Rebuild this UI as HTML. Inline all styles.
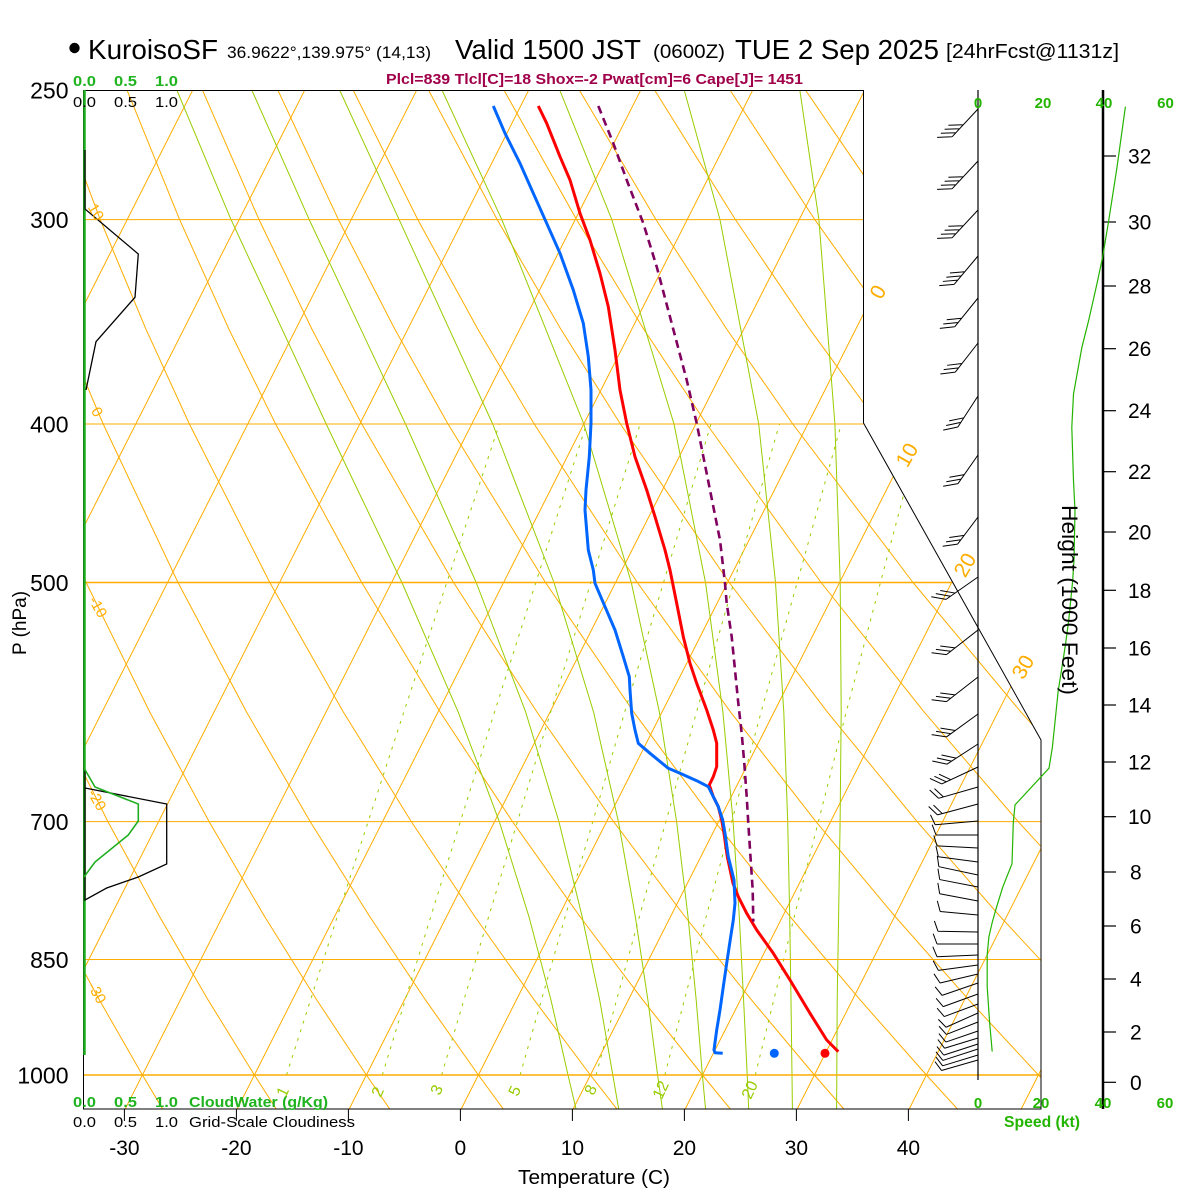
<!DOCTYPE html>
<html><head><meta charset="utf-8"><title>Skew-T</title>
<style>
html,body{margin:0;padding:0;background:#fff;}
svg{display:block;font-family:"Liberation Sans",Arial,sans-serif;}
</style></head>
<body>
<svg xmlns="http://www.w3.org/2000/svg" width="1200" height="1200" viewBox="0 0 1200 1200">
<rect width="1200" height="1200" fill="#fff"/>
<defs>
<clipPath id="cp"><polygon points="83,90 863,90 863,423 1041,740 1041,1109 83,1109"/></clipPath>
</defs>

<g clip-path="url(#cp)" fill="none" stroke-linejoin="round">
  <!-- isotherms -->
  <path stroke="#ffad00" stroke-width="1" d="M-438.55,1116.4L264.4,-272.9M-326.55,1116.4L376.4,-272.9M-214.55,1116.4L488.4,-272.9M-102.55,1116.4L600.4,-272.9M9.45,1116.4L712.4,-272.9M121.45,1116.4L824.4,-272.9M233.45,1116.4L936.4,-272.9M345.45,1116.4L1048.4,-272.9M457.45,1116.4L1160.4,-272.9M569.45,1116.4L1272.4,-272.9M681.45,1116.4L1384.4,-272.9M793.45,1116.4L1496.4,-272.9M905.45,1116.4L1608.4,-272.9M1017.45,1116.4L1720.4,-272.9"/>
  <!-- dry adiabats -->
  <g stroke="#ffad00" stroke-width="1">
    <polyline points="163.1,1109.7 142.4,1075 99.5,1000.1 54.4,916.5 6.8,821.6 -43.7,712.1"/>
    <polyline points="276.7,1109.7 254.4,1075 208.2,1000.1 159.5,916.5 107.9,821.6 53.1,712.1 -5.8,582.5"/>
    <polyline points="390.2,1109.7 366.4,1075 316.9,1000.1 264.6,916.5 209.1,821.6 149.8,712.1 86.1,582.5 17.0,424"/>
    <polyline points="503.8,1109.7 478.4,1075 425.6,1000.1 369.7,916.5 310.2,821.6 246.6,712.1 178.0,582.5 103.2,424 62.9,329.1 20.8,219.6"/>
    <polyline points="617.4,1109.7 590.4,1075 534.3,1000.1 474.8,916.5 411.3,821.6 343.4,712.1 269.8,582.5 189.4,424 145.9,329.1 100.2,219.6 51.7,90"/>
    <polyline points="730.9,1109.7 702.4,1075 642.9,1000.1 579.9,916.5 512.5,821.6 440.2,712.1 361.7,582.5 275.6,424 228.9,329.1 179.6,219.6 127.0,90"/>
    <polyline points="844.5,1109.7 814.4,1075 751.6,1000.1 684.9,916.5 613.6,821.6 537.0,712.1 453.6,582.5 361.8,424 311.9,329.1 259.0,219.6 202.4,90"/>
    <polyline points="958.1,1109.7 926.4,1075 860.3,1000.1 790.0,916.5 714.8,821.6 633.8,712.1 545.5,582.5 448.0,424 394.8,329.1 338.4,219.6 277.8,90"/>
    <polyline points="1071.7,1109.7 1038.4,1075 969.0,1000.1 895.1,916.5 815.9,821.6 730.6,712.1 637.3,582.5 534.2,424 477.8,329.1 417.8,219.6 353.1,90"/>
    <polyline points="1185.2,1109.7 1150.4,1075 1077.6,1000.1 1000.2,916.5 917.1,821.6 827.4,712.1 729.2,582.5 620.4,424 560.8,329.1 497.2,219.6 428.5,90"/>
    <polyline points="1186.3,1000.1 1105.3,916.5 1018.2,821.6 924.2,712.1 821.1,582.5 706.6,424 643.7,329.1 576.6,219.6 503.9,90"/>
    <polyline points="1210.3,916.5 1119.4,821.6 1021.0,712.1 913.0,582.5 792.8,424 726.7,329.1 656.0,219.6 579.3,90"/>
    <polyline points="1220.5,821.6 1117.8,712.1 1004.9,582.5 879.0,424 809.7,329.1 735.4,219.6 654.6,90"/>
    <polyline points="1214.6,712.1 1096.7,582.5 965.2,424 892.7,329.1 814.8,219.6 730.0,90"/>
    <polyline points="1188.6,582.5 1051.4,424 975.6,329.1 894.2,219.6 805.4,90"/>
    <polyline points="1137.6,424 1058.6,329.1 973.6,219.6 880.7,90"/>
  </g>
  <!-- moist adiabats -->
  <g stroke="#99cc00" stroke-width="1">
    <polyline points="576.2,1109.7 568.0,1075 551.0,1000.1 528.9,916.5 499.3,821.6 458.2,712.1 401.9,582.5 326.2,424 231.0,219.6 176.8,90"/>
    <polyline points="618.8,1109.7 612.8,1075 599.7,1000.1 582.1,916.5 558.9,821.6 525.7,712.1 476.2,582.5 405.5,424 309.2,219.6 251.8,90"/>
    <polyline points="662.5,1109.7 657.6,1075 647.9,1000.1 635.3,916.5 618.4,821.6 593.6,712.1 554.0,582.5 492.7,424 399.1,219.6 339.6,90"/>
    <polyline points="705.6,1109.7 702.4,1075 696.2,1000.1 688.0,916.5 676.6,821.6 659.4,712.1 631.3,582.5 583.8,424 501.8,219.6 442.0,90"/>
    <polyline points="748.7,1109.7 747.2,1075 743.6,1000.1 739.3,916.5 733.1,821.6 722.9,712.1 705.5,582.5 674.0,424 611.8,219.6 559.7,90"/>
    <polyline points="792.4,1109.7 792.0,1075 791.0,1000.1 789.7,916.5 787.7,821.6 783.8,712.1 775.5,582.5 758.7,424 720.0,219.6 684.2,90"/>
    <polyline points="836.6,1109.7 836.8,1075 837.2,1000.1 838.6,916.5 840.1,821.6 841.2,712.1 840.2,582.5 834.9,424 818.9,219.6 799.8,90"/>
  </g>
  <!-- mixing ratio lines -->
  <g stroke="#99cc00" stroke-width="1" stroke-dasharray="3 6">
    <polyline points="286.5,1075 337.3,916.5 403.8,712.1 499.4,424"/>
    <polyline points="382.3,1075 430.8,916.5 494.5,712.1 586.4,424"/>
    <polyline points="441.6,1075 488.7,916.5 550.6,712.1 640.1,424"/>
    <polyline points="520.1,1075 565.2,916.5 624.7,712.1 711.0,424"/>
    <polyline points="596.1,1075 639.4,916.5 696.5,712.1 779.5,424"/>
    <polyline points="664.8,1075 706.2,916.5 761.1,712.1 841.3,424"/>
    <polyline points="755.3,1075 794.3,916.5 846.2,712.1 922.4,424"/>
  </g>
  <!-- pressure lines -->
  <g stroke="#ffad00">
    <line x1="83" y1="219.6" x2="1041" y2="219.6" stroke-width="1"/>
    <line x1="83" y1="424" x2="1041" y2="424" stroke-width="1"/>
    <line x1="83" y1="582.5" x2="1041" y2="582.5" stroke-width="1.4"/>
    <line x1="83" y1="821.6" x2="1041" y2="821.6" stroke-width="1"/>
    <line x1="83" y1="959.5" x2="1041" y2="959.5" stroke-width="1"/>
    <line x1="83" y1="1075" x2="1041" y2="1075" stroke-width="1.4"/>
  </g>
</g>

<!-- frame -->
<g stroke="#000" stroke-width="1" fill="none">
  <polyline points="83.5,1109 83.5,90.5 863.5,90.5 863.5,423 1041,740 1041,1109 83,1109"/>
</g>
<!-- bottom ticks -->
<g stroke="#000" stroke-width="1">
  <line x1="124.4" y1="1109" x2="124.4" y2="1121"/>
  <line x1="236.4" y1="1109" x2="236.4" y2="1121"/>
  <line x1="348.4" y1="1109" x2="348.4" y2="1121"/>
  <line x1="460.4" y1="1109" x2="460.4" y2="1121"/>
  <line x1="572.4" y1="1109" x2="572.4" y2="1121"/>
  <line x1="684.4" y1="1109" x2="684.4" y2="1121"/>
  <line x1="796.4" y1="1109" x2="796.4" y2="1121"/>
  <line x1="908.4" y1="1109" x2="908.4" y2="1121"/>
</g>

<!-- left cloud panel -->
<line x1="84.5" y1="90" x2="84.5" y2="1055" stroke="#1fae1f" stroke-width="2.5"/>
<g fill="none" stroke="#000" stroke-width="1.3">
  <polyline points="85,150 85,209 138.3,254 135,297.3 96,341.7 86,390"/>
  <polyline points="85,769 85,788 166.7,804 166.7,864 138.3,877 106.7,888 85,900 85,788"/>
</g>
<polyline fill="none" stroke="#1fae1f" stroke-width="1.6" points="84,768 95,787 138.3,804 138.3,821 128.3,835 95,862 84,877"/>

<!-- Temperature (red) -->
<polyline fill="none" stroke="#ff0000" stroke-width="3" stroke-linejoin="round" points="538.3,106 546.7,123.3 560,156.7 570,180 580,213.3 590,240 600,273.3 608.3,306.7 615,350 620,390 626.7,423.3 635,456.7 646.7,490 655,516.7 665,550 670,570 676.7,603.3 683.3,636.7 690,663.3 696.7,683.3 706.7,710 713.3,730 716.7,743.3 716.7,766.7 713.3,776.7 709.3,785 713.3,796.7 718.3,806.7 721.7,820 724,833.3 727.3,856.7 733,883.3 738.3,896.7 746.7,913.3 756.7,930 773.3,953.3 790,980 810,1013.3 826.7,1040 838.3,1051.7"/>
<!-- Parcel (purple dashed) -->
<polyline fill="none" stroke="#80005f" stroke-width="2.6" stroke-dasharray="8 5" points="598.3,106 613.3,143.3 626.7,180 643.3,223.3 656.7,266.7 671.7,323.3 686.7,380 696.7,423.3 710,490 720,540 725,583.3 726.7,603.3 731.7,636.7 735,670 738.3,703.3 741.7,733.3 744.3,763.3 746.7,796.7 748.3,823.3 750.7,860 752.7,890 753.3,921.7"/>
<!-- Dewpoint (blue) -->
<polyline fill="none" stroke="#0066ff" stroke-width="3" stroke-linejoin="round" points="493.3,106 505,133.3 520,163.3 533.3,193.3 546.7,223.3 560,253.3 573.3,290 583.3,323.3 588.3,356.7 591,390 591,423.3 589.3,456.7 586,490 585,510 588.3,550 593.3,570 595,583.3 605,606.7 615,630 623.3,656.7 629.3,676.7 630,690 631.7,713.3 635,730 638.3,743.3 650,753.3 668.3,768.3 680,773.3 696.7,780.7 708.3,786.7 713.3,796.7 718.3,806.7 722.7,820 725,833.3 728.3,856.7 734,880 735,903.3 733.3,920 730.7,936.7 726.7,963.3 723.3,986.7 720,1010 716.7,1030 714,1050 715,1052.7 722.7,1053.3"/>
<circle cx="774.3" cy="1053.3" r="4.5" fill="#0066ff"/>
<circle cx="825" cy="1053.3" r="4.5" fill="#ff0000"/>

<!-- right panel lines -->
<line x1="978" y1="90" x2="978" y2="1080" stroke="#000" stroke-width="1.2"/>
<line x1="1103" y1="90" x2="1103" y2="1109" stroke="#000" stroke-width="2.5"/>
<g stroke="#000" stroke-width="1.2">
  <line x1="1103" y1="1082.3" x2="1116" y2="1082.3"/>
  <line x1="1103" y1="1032" x2="1116" y2="1032"/>
  <line x1="1103" y1="979" x2="1116" y2="979"/>
  <line x1="1103" y1="926" x2="1116" y2="926"/>
  <line x1="1103" y1="872" x2="1116" y2="872"/>
  <line x1="1103" y1="816.7" x2="1116" y2="816.7"/>
  <line x1="1103" y1="762" x2="1116" y2="762"/>
  <line x1="1103" y1="705" x2="1116" y2="705"/>
  <line x1="1103" y1="648" x2="1116" y2="648"/>
  <line x1="1103" y1="590.3" x2="1116" y2="590.3"/>
  <line x1="1103" y1="532" x2="1116" y2="532"/>
  <line x1="1103" y1="471.7" x2="1116" y2="471.7"/>
  <line x1="1103" y1="410.7" x2="1116" y2="410.7"/>
  <line x1="1103" y1="348.7" x2="1116" y2="348.7"/>
  <line x1="1103" y1="286" x2="1116" y2="286"/>
  <line x1="1103" y1="222" x2="1116" y2="222"/>
  <line x1="1103" y1="156" x2="1116" y2="156"/>
</g>
<!-- wind speed profile -->
<polyline fill="none" stroke="#22b400" stroke-width="1.2" points="1125.4,106.7 1117,167.3 1108.7,220.7 1102.6,257.3 1096.9,284 1088.6,320.7 1081.9,347.3 1073.5,394 1071.8,427.3 1073.5,480.7 1075,510.7 1074,560 1072.7,580.3 1068.8,619.5 1065.5,644.5 1060.5,676.6 1058.2,690.8 1054.9,723 1052.3,747.9 1049,768.2 1015,804.9 1013.3,822.7 1012,863.7 1002.8,886.9 996.2,908.3 992.2,922.5 988.9,936.8 987.2,954.6 987.2,986.8 989.6,1022.4 992.2,1051.6"/>

<!-- wind barbs -->
<g fill="none" stroke="#000" stroke-width="1">
<g transform="translate(978,109) rotate(-47)"><path d="M0,0H-38M-38,0l-10.6,-10.6M-32.5,0l-10.6,-10.6M-27,0l-10.6,-10.6M-21.5,0l-10.6,-10.6"/></g>
<g transform="translate(978,161) rotate(-47)"><path d="M0,0H-38M-38,0l-10.6,-10.6M-32.5,0l-10.6,-10.6M-27,0l-10.6,-10.6M-21.5,0l-10.6,-10.6"/></g>
<g transform="translate(978,210) rotate(-47)"><path d="M0,0H-38M-38,0l-10.6,-10.6M-32.5,0l-10.6,-10.6M-27,0l-10.6,-10.6M-21.5,0l-10.6,-10.6"/></g>
<g transform="translate(978,256) rotate(-50)"><path d="M0,0H-37M-37,0l-10.6,-10.6M-31.5,0l-10.6,-10.6M-26,0l-10.6,-10.6M-20.5,0l-10.6,-10.6"/></g>
<g transform="translate(978,298) rotate(-51)"><path d="M0,0H-37M-37,0l-10.6,-10.6M-31.5,0l-10.6,-10.6M-26,0l-10.6,-10.6"/></g>
<g transform="translate(978,343) rotate(-52)"><path d="M0,0H-37M-37,0l-10.6,-10.6M-31.5,0l-10.6,-10.6M-26,0l-10.6,-10.6"/></g>
<g transform="translate(978,396) rotate(-57)"><path d="M0,0H-37M-37,0l-10.6,-10.6M-31.5,0l-10.6,-10.6M-26,0l-10.6,-10.6"/></g>
<g transform="translate(978,455) rotate(-55)"><path d="M0,0H-35M-35,0l-10.6,-10.6M-29.5,0l-10.6,-10.6M-24,0l-10.6,-10.6"/></g>
<g transform="translate(978,517) rotate(-53)"><path d="M0,0H-34M-34,0l-10.6,-10.6M-28.5,0l-10.6,-10.6M-23,0l-10.6,-10.6"/></g>
<g transform="translate(978,577) rotate(-35)"><path d="M0,0H-39M-39,0l-10.6,-10.6M-33.5,0l-10.6,-10.6M-28,0l-10.6,-10.6"/></g>
<g transform="translate(978,630) rotate(-38)"><path d="M0,0H-40M-40,0l-10.6,-10.6M-34.5,0l-10.6,-10.6M-29,0l-10.6,-10.6"/></g>
<g transform="translate(978,677) rotate(-38)"><path d="M0,0H-40M-40,0l-10.6,-10.6M-34.5,0l-10.6,-10.6M-29,0l-10.6,-10.6"/></g>
<g transform="translate(978,714) rotate(-36)"><path d="M0,0H-39M-39,0l-10.6,-10.6M-33.5,0l-10.6,-10.6M-28,0l-10.6,-10.6"/></g>
<g transform="translate(978,744) rotate(-33)"><path d="M0,0H-37M-37,0l-10.6,-10.6M-31.5,0l-10.6,-10.6M-26,0l-10.6,-10.6"/></g>
<g transform="translate(978,767) rotate(-25)"><path d="M0,0H-40M-40,0l-8.4,-10M-35,0l-8.4,-10M-30,0l-8.4,-10"/></g>
<g transform="translate(978,787) rotate(-16)"><path d="M0,0H-41M-41,0l-6.3,-10.4M-36,0l-6.3,-10.4"/></g>
<g transform="translate(978,804) rotate(-15)"><path d="M0,0H-42M-42,0l-6.3,-10.4M-37,0l-6.3,-10.4"/></g>
<g transform="translate(978,821) rotate(-5)"><path d="M0,0H-43M-43,0l-3.8,-10.3"/></g>
<g transform="translate(978,835) rotate(0)"><path d="M0,0H-42M-42,0l-3.8,-10.3"/></g>
<g transform="translate(978,848) rotate(3)"><path d="M0,0H-41M-41,0l-3.8,-10.3"/></g>
<g transform="translate(978,862) rotate(7.6)"><path d="M0,0H-40M-40,0l-3.8,-10.3"/></g>
<g transform="translate(978,875) rotate(12)"><path d="M0,0H-40M-40,0l-3.8,-10.3"/></g>
<g transform="translate(978,887) rotate(11)"><path d="M0,0H-39M-39,0l-3.8,-10.3"/></g>
<g transform="translate(978,901) rotate(10.7)"><path d="M0,0H-39M-39,0l-3.8,-10.3"/></g>
<g transform="translate(978,915) rotate(5.3)"><path d="M0,0H-38M-38,0l-3.8,-10.3"/></g>
<g transform="translate(978,932) rotate(1)"><path d="M0,0H-40M-40,0l-3.8,-10.3"/></g>
<g transform="translate(978,944) rotate(0)"><path d="M0,0H-41M-41,0l-3.8,-10.3"/></g>
<g transform="translate(978,955) rotate(-2.5)"><path d="M0,0H-41M-41,0l-3.8,-10.3"/></g>
<g transform="translate(978,965) rotate(-7.8)"><path d="M0,0H-40M-40,0l-3.8,-10.3"/></g>
<g transform="translate(978,974) rotate(-13.3)"><path d="M0,0H-39M-39,0l-3.8,-10.3"/></g>
<g transform="translate(978,983) rotate(-19)"><path d="M0,0H-38M-38,0l-3.8,-10.3"/></g>
<g transform="translate(978,994) rotate(-20)"><path d="M0,0H-37M-37,0l-3.8,-10.3"/></g>
<g transform="translate(978,1004) rotate(-20.4)"><path d="M0,0H-36M-36,0l-3.8,-10.3"/></g>
<g transform="translate(978,1013) rotate(-24)"><path d="M0,0H-35M-35,0l-3.8,-10.3"/></g>
<g transform="translate(978,1022) rotate(-21.5)"><path d="M0,0H-34M-34,0l-3.8,-10.3"/></g>
<g transform="translate(978,1031) rotate(-19)"><path d="M0,0H-34M-34,0l-3.8,-10.3"/></g>
<g transform="translate(978,1038) rotate(-17)"><path d="M0,0H-35M-35,0l-3.8,-10.3"/></g>
<g transform="translate(978,1044) rotate(-18)"><path d="M0,0H-36M-36,0l-3.8,-10.3"/></g>
<g transform="translate(978,1049) rotate(-18)"><path d="M0,0H-37M-37,0l-3.8,-10.3"/></g>
<g transform="translate(978,1055) rotate(-17)"><path d="M0,0H-37M-37,0l-3.8,-10.3"/></g>
<g transform="translate(978,1060) rotate(-16)"><path d="M0,0H-38M-38,0l-3.8,-10.3"/></g>
</g>

<!-- Title -->
<circle cx="74.5" cy="48" r="5.2" fill="#000"/>
<text x="88" y="59" font-size="28" textLength="130" lengthAdjust="spacingAndGlyphs">KuroisoSF</text>
<text x="227" y="58" font-size="17" textLength="204" lengthAdjust="spacingAndGlyphs">36.9622°,139.975° (14,13)</text>
<text x="455" y="59" font-size="28" textLength="186" lengthAdjust="spacingAndGlyphs">Valid 1500 JST</text>
<text x="653" y="58" font-size="19" textLength="72" lengthAdjust="spacingAndGlyphs">(0600Z)</text>
<text x="735" y="59" font-size="28" textLength="204" lengthAdjust="spacingAndGlyphs">TUE 2 Sep 2025</text>
<text x="946" y="58" font-size="20" textLength="173" lengthAdjust="spacingAndGlyphs">[24hrFcst@1131z]</text>
<text x="386" y="84" font-size="15" font-weight="bold" fill="#a0004a" textLength="417" lengthAdjust="spacingAndGlyphs">Plcl=839 Tlcl[C]=18 Shox=-2 Pwat[cm]=6 Cape[J]= 1451</text>

<!-- top-left small scale labels -->
<g font-size="15" font-weight="bold" fill="#1fb41f">
  <text x="73" y="86" textLength="23" lengthAdjust="spacingAndGlyphs">0.0</text>
  <text x="114" y="86" textLength="23" lengthAdjust="spacingAndGlyphs">0.5</text>
  <text x="155" y="86" textLength="23" lengthAdjust="spacingAndGlyphs">1.0</text>
</g>
<g font-size="15" fill="#000">
  <text x="73" y="107" textLength="23" lengthAdjust="spacingAndGlyphs">0.0</text>
  <text x="114" y="107" textLength="23" lengthAdjust="spacingAndGlyphs">0.5</text>
  <text x="155" y="107" textLength="23" lengthAdjust="spacingAndGlyphs">1.0</text>
</g>
<!-- bottom-left labels -->
<g font-size="15" font-weight="bold" fill="#1fb41f">
  <text x="73" y="1107" textLength="23" lengthAdjust="spacingAndGlyphs">0.0</text>
  <text x="114" y="1107" textLength="23" lengthAdjust="spacingAndGlyphs">0.5</text>
  <text x="155" y="1107" textLength="23" lengthAdjust="spacingAndGlyphs">1.0</text>
  <text x="189" y="1107" textLength="139" lengthAdjust="spacingAndGlyphs">CloudWater (g/Kg)</text>
</g>
<g font-size="15" fill="#000">
  <text x="73" y="1127" textLength="23" lengthAdjust="spacingAndGlyphs">0.0</text>
  <text x="114" y="1127" textLength="23" lengthAdjust="spacingAndGlyphs">0.5</text>
  <text x="155" y="1127" textLength="23" lengthAdjust="spacingAndGlyphs">1.0</text>
  <text x="189" y="1127" textLength="166" lengthAdjust="spacingAndGlyphs">Grid-Scale Cloudiness</text>
</g>

<!-- pressure labels -->
<g font-size="23" text-anchor="end" fill="#000">
  <text x="68.5" y="98.3">250</text>
  <text x="68.5" y="227.9">300</text>
  <text x="68.5" y="432.3">400</text>
  <text x="68.5" y="590.8">500</text>
  <text x="68.5" y="829.9">700</text>
  <text x="68.5" y="967.8">850</text>
  <text x="68.5" y="1083.3">1000</text>
</g>
<text transform="translate(26,623) rotate(-90)" font-size="19" text-anchor="middle">P (hPa)</text>

<!-- temperature labels -->
<g font-size="21" text-anchor="middle" fill="#000">
  <text x="124.4" y="1155">-30</text>
  <text x="236.4" y="1155">-20</text>
  <text x="348.4" y="1155">-10</text>
  <text x="460.4" y="1155">0</text>
  <text x="572.4" y="1155">10</text>
  <text x="684.4" y="1155">20</text>
  <text x="796.4" y="1155">30</text>
  <text x="908.4" y="1155">40</text>
</g>
<text x="594" y="1184" font-size="20" text-anchor="middle" textLength="152" lengthAdjust="spacingAndGlyphs">Temperature (C)</text>

<!-- isotherm labels -->
<g font-size="21" fill="#ffad00" text-anchor="middle">
  <text transform="translate(878,292) rotate(-60)" dy="7">0</text>
  <text transform="translate(907,455) rotate(-60)" dy="7">10</text>
  <text transform="translate(965,565) rotate(-60)" dy="7">20</text>
  <text transform="translate(1023,667) rotate(-60)" dy="7">30</text>
</g>
<!-- dry adiabat labels -->
<g font-size="15" fill="#ffad00" text-anchor="middle">
  <text transform="translate(96,212) rotate(60)" dy="5">10</text>
  <text transform="translate(97,412) rotate(60)" dy="5">0</text>
  <text transform="translate(98,607) rotate(60)" dy="5">-10</text>
  <text transform="translate(97,800) rotate(60)" dy="5">-20</text>
  <text transform="translate(97,993) rotate(60)" dy="5">-30</text>
</g>
<!-- mixing ratio labels -->
<g font-size="16" fill="#99cc00" text-anchor="middle">
  <text transform="translate(283,1092) rotate(-65)" dy="5">1</text>
  <text transform="translate(378,1092) rotate(-65)" dy="5">2</text>
  <text transform="translate(437,1090) rotate(-65)" dy="5">3</text>
  <text transform="translate(515,1091) rotate(-65)" dy="5">5</text>
  <text transform="translate(591,1090) rotate(-65)" dy="5">8</text>
  <text transform="translate(661,1090) rotate(-65)" dy="5">12</text>
  <text transform="translate(750,1090) rotate(-65)" dy="5">20</text>
</g>

<!-- speed labels -->
<g font-size="15" font-weight="bold" fill="#22b400" text-anchor="middle">
  <text x="978" y="108">0</text>
  <text x="1043" y="108">20</text>
  <text x="1104" y="108">40</text>
  <text x="1165.5" y="108">60</text>
  <text x="978" y="1108">0</text>
  <text x="1041" y="1108">20</text>
  <text x="1103" y="1108">40</text>
  <text x="1165" y="1108">60</text>
</g>
<text x="1004" y="1127" font-size="16" font-weight="bold" fill="#22b400" textLength="76" lengthAdjust="spacingAndGlyphs">Speed (kt)</text>

<!-- height labels -->
<g font-size="21" fill="#000">
  <text x="1130" y="1090">0</text>
  <text x="1130" y="1039.5">2</text>
  <text x="1130" y="986.5">4</text>
  <text x="1130" y="933.5">6</text>
  <text x="1130" y="879.5">8</text>
  <text x="1128" y="824.2">10</text>
  <text x="1128" y="769.5">12</text>
  <text x="1128" y="712.5">14</text>
  <text x="1128" y="655.5">16</text>
  <text x="1128" y="597.8">18</text>
  <text x="1128" y="539.5">20</text>
  <text x="1128" y="479.2">22</text>
  <text x="1128" y="418.2">24</text>
  <text x="1128" y="356.2">26</text>
  <text x="1128" y="293.5">28</text>
  <text x="1128" y="229.5">30</text>
  <text x="1128" y="163.5">32</text>
</g>
<text transform="translate(1062,505) rotate(90)" font-size="22" textLength="190" lengthAdjust="spacingAndGlyphs">Height (1000 Feet)</text>
</svg>
</body></html>
